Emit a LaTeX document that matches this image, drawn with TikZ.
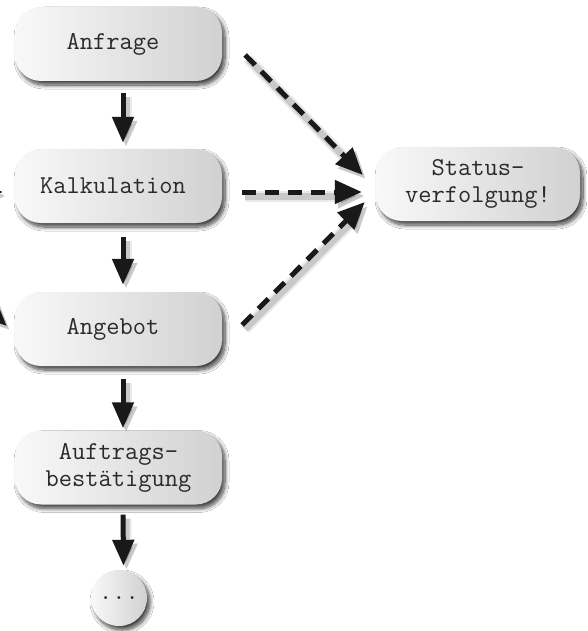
\documentclass[tikz,border=0pt]{standalone}
\usepackage{fontspec}
\usetikzlibrary{arrows.meta,shadows.blur}
\definecolor{txt}{HTML}{2A2A2A}
\begin{document}
\begin{tikzpicture}[x=1pt,y=-1pt,
  boxfont/.style={font=\ttfamily\fontsize{25.7}{27}\selectfont},
  box/.style={rectangle, rounded corners=26pt, minimum width=207pt, minimum height=74pt,
    inner sep=0pt, left color=gray!5, right color=gray!36,
    boxfont, text=txt, align=center,
    blur shadow={shadow xshift=3pt, shadow yshift=-4pt, shadow blur steps=10,
      shadow blur radius=4pt, shadow opacity=75}},
  dotbox/.style={circle, minimum size=56pt, inner sep=0pt, left color=gray!5, right color=gray!36,
    boxfont, text=txt,
    blur shadow={shadow xshift=3pt, shadow yshift=-4pt, shadow blur steps=10,
      shadow blur radius=4pt, shadow opacity=75}},
  shadowed/.style={
    preaction={draw=black, opacity=0.08, line width=11pt,
      transform canvas={shift={(3pt,-4pt)}}},
    preaction={draw=black, opacity=0.14, line width=7pt,
      transform canvas={shift={(3pt,-4pt)}}}},
  arr/.style={draw=black!90, line width=5pt, -{Triangle[length=26pt,width=21pt]}, shadowed},
  dasharr/.style={draw=black!90, line width=5pt, dash pattern=on 14pt off 9pt,
    -{Triangle[length=27pt,width=23pt]}, shadowed}
]
\useasboundingbox (0,0) rectangle (587,631);
\clip (0,0) rectangle (587,631);
\fill[white] (0,0) rectangle (587,631);

\node[box] (anf) at (118.5,44) {\hspace*{-11pt}Anfrage};
\node[box] (kal) at (118.5,186) {\hspace*{-11pt}Kalkulation};
\node[box] (ang) at (118.5,329) {\hspace*{-11pt}Angebot};
\node[box] (auf) at (118.5,467.5) {Auftrags-\\bestätigung};
\node[box, minimum width=204pt] (sta) at (478,184) {Status-\\verfolgung!};
\node[dotbox] (dots) at (119,598) {...};

% vertical flow
\draw[arr, shorten <=12pt, shorten >=6pt] ([xshift=4.5pt]anf.south) -- ([xshift=4.5pt]kal.north);
\draw[arr, shorten <=14pt, shorten >=7pt] ([xshift=4.5pt]kal.south) -- ([xshift=4.5pt]ang.north);
\draw[arr, shorten <=13pt, shorten >=2pt] ([xshift=4.5pt]ang.south) -- ([xshift=4.5pt]auf.north);
\draw[arr, shorten <=10pt, shorten >=4pt] ([xshift=4.5pt]auf.south) -- ([xshift=4.5pt]dots.north);

% dashed arrows to status
\draw[dasharr] ([shift={(23,11)}]anf.east) -- ([shift={(-13,-9)}]sta.west);
\draw[dasharr] ([shift={(20,6)}]kal.east) -- ([shift={(-14,8)}]sta.west);
\draw[dasharr] ([shift={(20,-4)}]ang.east) -- ([shift={(-11,18)}]sta.west);

% arrows entering from the left edge (cut off)
\coordinate (l1) at (-120,180);
\coordinate (l2) at (-120,192);
\coordinate (l3) at (-100,226);
\draw[dasharr] (l1) -- ([shift={(-18,22)}]anf.west);
\draw[dasharr] (l2) -- ([shift={(-12,6)}]kal.west);
\draw[dasharr] (l3) -- ([shift={(-8,-3)}]ang.west);
\end{tikzpicture}
\end{document}
